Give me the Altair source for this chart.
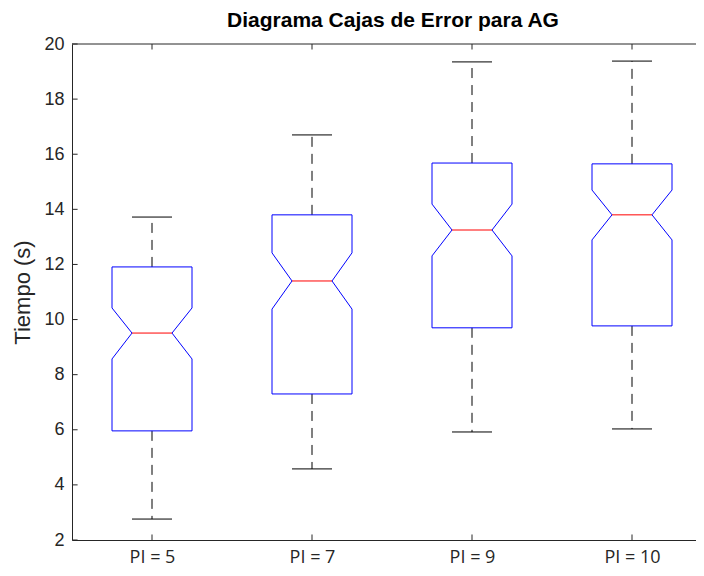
import altair as alt
import pandas as pd

# ---- data ----
categories = ["PI = 5", "PI = 7", "PI = 9", "PI = 10"]
positions = [1, 2, 3, 4]
whisker_low = [2.76, 4.58, 5.92, 6.03]
q1 = [5.96, 7.30, 9.70, 9.77]
notch_low = [8.57, 10.38, 12.31, 12.89]
median = [9.51, 11.40, 13.25, 13.80]
notch_high = [10.42, 12.42, 14.19, 14.70]
q3 = [11.91, 13.80, 15.68, 15.65]
whisker_high = [13.72, 16.70, 19.35, 19.38]
y_ticks = [2, 4, 6, 8, 10, 12, 14, 16, 18, 20]

# ---- style constants ----
BOX_HALF = 0.25
NOTCH_HALF = 0.125
CAP_HALF = 0.125
X_MIN, X_MAX = 0.5, 4.4
Y_MIN, Y_MAX = 2, 20
TICK_Y = 0.2   # inward tick length in y units
TICK_X = 0.035  # inward tick length in x units
AXIS_COLOR = "#262626"
FONT = "Liberation Sans"

# ---- build tables ----
outline_rows = []
for cat, p, a, nl, m, nh, b in zip(categories, positions, q1, notch_low, median, notch_high, q3):
    pts = [
        (p - BOX_HALF, a), (p - BOX_HALF, nl), (p - NOTCH_HALF, m), (p - BOX_HALF, nh),
        (p - BOX_HALF, b), (p + BOX_HALF, b), (p + BOX_HALF, nh), (p + NOTCH_HALF, m),
        (p + BOX_HALF, nl), (p + BOX_HALF, a), (p - BOX_HALF, a),
    ]
    for i, (x, y) in enumerate(pts):
        outline_rows.append({"cat": cat, "i": i, "x": x, "y": y})
outline = pd.DataFrame(outline_rows)

stats = pd.DataFrame({
    "cat": categories, "pos": positions, "lo": whisker_low, "q1": q1,
    "med": median, "q3": q3, "hi": whisker_high,
})
stats["xl"] = stats["pos"] - NOTCH_HALF
stats["xr"] = stats["pos"] + NOTCH_HALF
stats["cl"] = stats["pos"] - CAP_HALF
stats["cr"] = stats["pos"] + CAP_HALF

label_expr = "[" + ",".join("'" + c + "'" for c in categories) + "][datum.value - 1]"

x_scale = alt.Scale(domain=[X_MIN, X_MAX], nice=False, zero=False)
y_scale = alt.Scale(domain=[Y_MIN, Y_MAX], nice=False, zero=False)

x_axis = alt.Axis(values=positions, labelExpr=label_expr, title=None, ticks=False, grid=False,
                  domainColor=AXIS_COLOR, domainWidth=1, labelColor=AXIS_COLOR, labelFont="Open Sans",
                  labelFontSize=18, labelPadding=8)
y_axis = alt.Axis(values=y_ticks, title="Tiempo (s)", ticks=False, grid=False,
                  domainColor=AXIS_COLOR, domainWidth=1, labelColor=AXIS_COLOR, labelFont=FONT,
                  labelFontSize=18, labelPadding=8, titleFont=FONT, titleFontSize=22,
                  titleFontWeight="normal", titleColor=AXIS_COLOR, titlePadding=9)

boxes = alt.Chart(outline).mark_line(color="#0000FF", strokeWidth=1).encode(
    x=alt.X("x:Q", scale=x_scale, axis=x_axis),
    y=alt.Y("y:Q", scale=y_scale, axis=y_axis),
    order="i:Q",
    detail="cat:N",
)

base = alt.Chart(stats)
med_rule = base.mark_rule(color="#FF0000", strokeWidth=1).encode(
    x=alt.X("xl:Q", scale=x_scale, axis=x_axis), x2="xr:Q",
    y=alt.Y("med:Q", scale=y_scale, axis=y_axis),
)
upper_whisk = base.mark_rule(color="#000000", strokeWidth=1, strokeDash=[10, 7]).encode(
    x=alt.X("pos:Q", scale=x_scale, axis=x_axis),
    y=alt.Y("q3:Q", scale=y_scale, axis=y_axis), y2="hi:Q",
)
lower_whisk = base.mark_rule(color="#000000", strokeWidth=1, strokeDash=[10, 7]).encode(
    x=alt.X("pos:Q", scale=x_scale, axis=x_axis),
    y=alt.Y("q1:Q", scale=y_scale, axis=y_axis), y2="lo:Q",
)
upper_cap = base.mark_rule(color="#000000", strokeWidth=1).encode(
    x=alt.X("cl:Q", scale=x_scale, axis=x_axis), x2="cr:Q",
    y=alt.Y("hi:Q", scale=y_scale, axis=y_axis),
)
lower_cap = base.mark_rule(color="#000000", strokeWidth=1).encode(
    x=alt.X("cl:Q", scale=x_scale, axis=x_axis), x2="cr:Q",
    y=alt.Y("lo:Q", scale=y_scale, axis=y_axis),
)

# inward tick marks and top frame line (MATLAB style)
xt = pd.DataFrame({"pos": positions, "b0": [Y_MIN] * 4, "b1": [Y_MIN + TICK_Y] * 4,
                   "t0": [Y_MAX] * 4, "t1": [Y_MAX - TICK_Y] * 4})
yt = pd.DataFrame({"v": y_ticks, "x0": [X_MIN] * len(y_ticks), "x1": [X_MIN + TICK_X] * len(y_ticks)})
frame = pd.DataFrame({"x0": [X_MIN], "x1": [X_MAX], "y": [Y_MAX]})

bottom_ticks = alt.Chart(xt).mark_rule(color=AXIS_COLOR, strokeWidth=1).encode(
    x=alt.X("pos:Q", scale=x_scale, axis=x_axis),
    y=alt.Y("b0:Q", scale=y_scale, axis=y_axis), y2="b1:Q",
)
top_ticks = alt.Chart(xt).mark_rule(color=AXIS_COLOR, strokeWidth=1).encode(
    x=alt.X("pos:Q", scale=x_scale, axis=x_axis),
    y=alt.Y("t0:Q", scale=y_scale, axis=y_axis), y2="t1:Q",
)
left_ticks = alt.Chart(yt).mark_rule(color=AXIS_COLOR, strokeWidth=1).encode(
    x=alt.X("x0:Q", scale=x_scale, axis=x_axis), x2="x1:Q",
    y=alt.Y("v:Q", scale=y_scale, axis=y_axis),
)
top_frame = alt.Chart(frame).mark_rule(color=AXIS_COLOR, strokeWidth=1).encode(
    x=alt.X("x0:Q", scale=x_scale, axis=x_axis), x2="x1:Q",
    y=alt.Y("y:Q", scale=y_scale, axis=y_axis),
)

chart = alt.layer(
    top_frame, bottom_ticks, top_ticks, left_ticks,
    lower_whisk, upper_whisk, lower_cap, upper_cap, boxes, med_rule,
).properties(
    width=624,
    height=496,
    title=alt.TitleParams("Diagrama Cajas de Error para AG", font=FONT, fontSize=21,
                          fontWeight="bold", color="#000000", offset=4, frame="group", dx=9),
    autosize=alt.AutoSizeParams(type="none"),
    padding={"left": 64, "top": 36, "right": 0, "bottom": 28},
).configure(background="white").configure_view(stroke=None)

chart.save("out.html", embed_options={"renderer": "svg", "actions": False})
